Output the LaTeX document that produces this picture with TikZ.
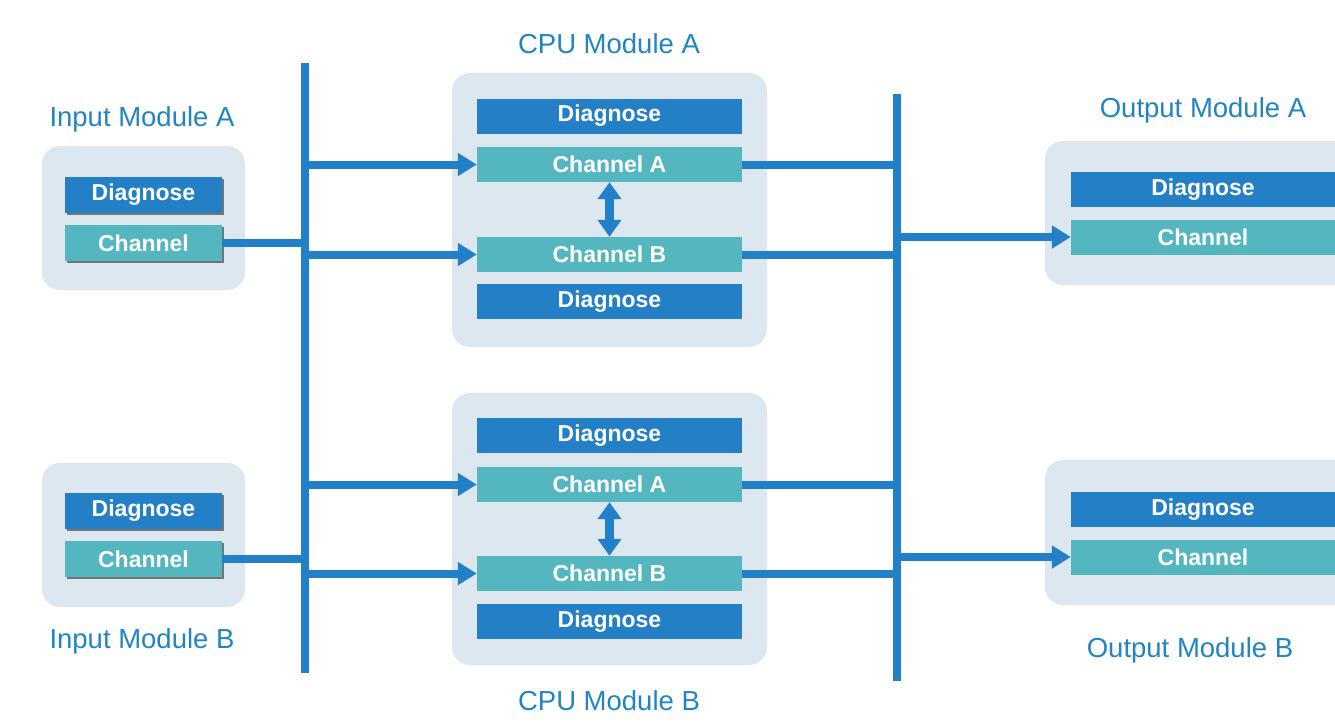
\documentclass[tikz,border=0pt]{standalone}
\usepackage{fontspec}
\setmainfont{Liberation Sans}
\usetikzlibrary{arrows.meta,shadows}
\definecolor{diagblue}{HTML}{2480C6}
\definecolor{chanteal}{HTML}{54B7C0}
\definecolor{contbg}{HTML}{DCE7EF}
\definecolor{linecol}{HTML}{2280C8}
\definecolor{labelcol}{HTML}{2384C2}
\begin{document}
\begin{tikzpicture}[x=1pt,y=-1pt,
  cont/.style={fill=contbg, rounded corners=18pt, draw=none, inner sep=0pt},
  box/.style={text=white, font=\fontsize{23}{26}\selectfont\bfseries, inner sep=0pt, draw=none},
  diagbox/.style={box, fill=diagblue},
  chanbox/.style={box, fill=chanteal},
  shad/.style={drop shadow={shadow xshift=1.5pt, shadow yshift=-2pt, fill=black!65, opacity=0.8}},
  lbl/.style={text=labelcol, font=\fontsize{27.5}{30}\selectfont, inner sep=0pt},
  bus/.style={draw=linecol, line width=8.5pt},
  link/.style={draw=linecol, line width=8pt},
  arr/.style={link, -{Triangle[length=19pt,width=22pt]}},
  darr/.style={draw=linecol, line width=9pt, {Triangle[length=17pt,width=23pt]}-{Triangle[length=17pt,width=23pt]}}]
\useasboundingbox (0,0) rectangle (1335,723);
\clip (0,0) rectangle (1335,723);
\fill[white] (0,0) rectangle (1335,723);

% ---------- containers ----------
\node[cont, minimum width=203pt, minimum height=144pt] (inA) at (143.5,218) {};
\node[cont, minimum width=203pt, minimum height=144pt] (inB) at (143.5,535) {};
\node[cont, minimum width=315pt, minimum height=274pt] (cpuA) at (609.5,210) {};
\node[cont, minimum width=315pt, minimum height=272pt] (cpuB) at (609.5,529) {};
\node[cont, minimum width=330pt, minimum height=144pt] (outA) at (1210,213) {};
\node[cont, minimum width=330pt, minimum height=145pt] (outB) at (1210,532.5) {};

% ---------- labels ----------
\node[lbl] (lInA) at (142,119) {Input Module A};
\node[lbl] (lInB) at (142,641) {Input Module B};
\node[lbl] (lCpuA) at (609,44) {CPU Module A};
\node[lbl] (lCpuB) at (609,701) {CPU Module B};
\node[lbl] (lOutA) at (1203,110) {Output Module A};
\node[lbl] (lOutB) at (1190,650) {Output Module B};

% ---------- input modules ----------
\node[diagbox, shad, minimum width=157pt, minimum height=36pt] (inAdg) at (143.5,195) {Diagnose};
\node[chanbox, shad, minimum width=157pt, minimum height=36pt] (inAch) at (143.5,243) {Channel};
\node[diagbox, shad, minimum width=157pt, minimum height=36pt] (inBdg) at (143.5,511) {Diagnose};
\node[chanbox, shad, minimum width=157pt, minimum height=36pt] (inBch) at (143.5,559) {Channel};

% ---------- CPU modules ----------
\node[diagbox, minimum width=265pt, minimum height=35pt] (cpuAdg1) at (609.5,116) {Diagnose};
\node[chanbox, minimum width=265pt, minimum height=35pt] (cpuAchA) at (609.5,164.5) {Channel A};
\node[chanbox, minimum width=265pt, minimum height=35pt] (cpuAchB) at (609.5,254.5) {Channel B};
\node[diagbox, minimum width=265pt, minimum height=35pt] (cpuAdg2) at (609.5,301.5) {Diagnose};

\node[diagbox, minimum width=265pt, minimum height=35pt] (cpuBdg1) at (609.5,435.5) {Diagnose};
\node[chanbox, minimum width=265pt, minimum height=35pt] (cpuBchA) at (609.5,484.5) {Channel A};
\node[chanbox, minimum width=265pt, minimum height=35pt] (cpuBchB) at (609.5,573.5) {Channel B};
\node[diagbox, minimum width=265pt, minimum height=35pt] (cpuBdg2) at (609.5,621.5) {Diagnose};

% ---------- output modules ----------
\node[diagbox, minimum width=264pt, minimum height=35pt] (outAdg) at (1203,189.5) {Diagnose};
\node[chanbox, minimum width=264pt, minimum height=35pt] (outAch) at (1203,237) {Channel};
\node[diagbox, minimum width=264pt, minimum height=35pt] (outBdg) at (1203,509.5) {Diagnose};
\node[chanbox, minimum width=264pt, minimum height=35pt] (outBch) at (1203,557) {Channel};

% ---------- buses ----------
\coordinate (b1t) at (305,63);
\coordinate (b1b) at (305,673);
\coordinate (b2t) at (897,94);
\coordinate (b2b) at (897,681);
\draw[bus] (b1t) -- (b1b);
\draw[bus] (b2t) -- (b2b);

% ---------- input to bus ----------
\draw[link] (inAch.east) -- (inAch.east -| b1t);
\draw[link] (inBch.east) -- (inBch.east -| b1t);

% ---------- bus to CPU ----------
\draw[arr] (cpuAchA.west -| b1t) -- (cpuAchA.west);
\draw[arr] (cpuAchB.west -| b1t) -- (cpuAchB.west);
\draw[arr] (cpuBchA.west -| b1t) -- (cpuBchA.west);
\draw[arr] (cpuBchB.west -| b1t) -- (cpuBchB.west);

% ---------- channel sync ----------
\draw[darr] (cpuAchA.south) -- (cpuAchB.north);
\draw[darr] (cpuBchA.south) -- (cpuBchB.north);

% ---------- CPU to bus ----------
\draw[link] (cpuAchA.east) -- (cpuAchA.east -| b2t);
\draw[link] (cpuAchB.east) -- (cpuAchB.east -| b2t);
\draw[link] (cpuBchA.east) -- (cpuBchA.east -| b2t);
\draw[link] (cpuBchB.east) -- (cpuBchB.east -| b2t);

% ---------- bus to output ----------
\draw[arr] (outAch.west -| b2t) -- (outAch.west);
\draw[arr] (outBch.west -| b2t) -- (outBch.west);
\end{tikzpicture}
\end{document}
